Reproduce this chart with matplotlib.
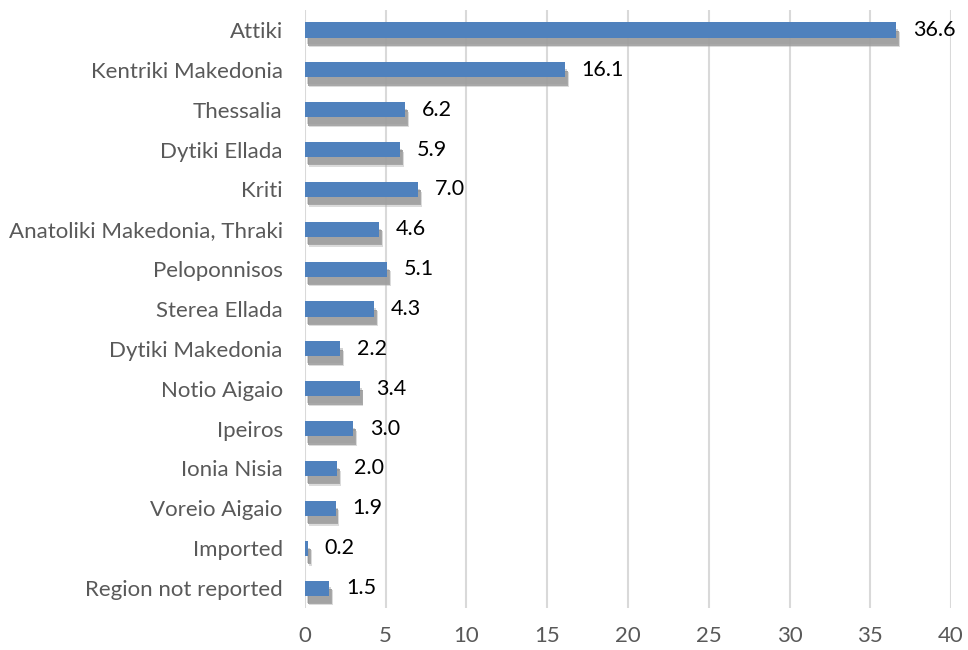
import matplotlib.pyplot as plt
import matplotlib.patheffects as pe

regions = ["Attiki", "Kentriki Makedonia", "Thessalia", "Dytiki Ellada", "Kriti",
           "Anatoliki Makedonia, Thraki", "Peloponnisos", "Sterea Ellada",
           "Dytiki Makedonia", "Notio Aigaio", "Ipeiros", "Ionia Nisia",
           "Voreio Aigaio", "Imported", "Region not reported"]
values = [36.6, 16.1, 6.2, 5.9, 7.0, 4.6, 5.1, 4.3, 2.2, 3.4, 3.0, 2.0, 1.9, 0.2, 1.5]
xticks = [0, 5, 10, 15, 20, 25, 30, 35, 40]

plt.rcParams['font.family'] = ['Lato', 'DejaVu Sans']

fig = plt.figure(figsize=(9.68, 6.5), dpi=100)
ax = fig.add_axes([0.315, 0.0646, 0.6675, 0.92])

ypos = list(range(len(regions)))
bars = ax.barh(ypos, values, height=0.38, color="#4F81BD", zorder=3)
# soft drop shadow, a few offset layers to fake the blur
shadow = [pe.SimplePatchShadow(offset=(1.5, -5.0), shadow_rgbFace="#a8a8a8", alpha=0.5),
          pe.SimplePatchShadow(offset=(2.0, -6.0), shadow_rgbFace="#8c8c8c", alpha=0.8),
          pe.SimplePatchShadow(offset=(2.6, -7.0), shadow_rgbFace="#b0b0b0", alpha=0.45),
          pe.Normal()]
for b in bars:
    b.set_path_effects(shadow)

for y, v in zip(ypos, values):
    ax.annotate(f"{v:.1f}", (v, y), xytext=(12, 0), textcoords="offset points",
                va="center", ha="left", fontsize=15.5, color="black")

ax.set_xlim(0, 40)
ax.set_ylim(len(regions) - 0.5, -0.5)
ax.set_xticks(xticks)
ax.set_yticks(ypos)
ax.set_yticklabels(regions)
ax.tick_params(axis="both", length=0, labelsize=16, colors="#595959")
ax.tick_params(axis="x", pad=13)
ax.tick_params(axis="y", pad=16)
ax.grid(axis="x", color="#d9d9d9", linewidth=1.5, zorder=0)
for s in ax.spines.values():
    s.set_visible(False)

fig.savefig("out.png", dpi=100)
